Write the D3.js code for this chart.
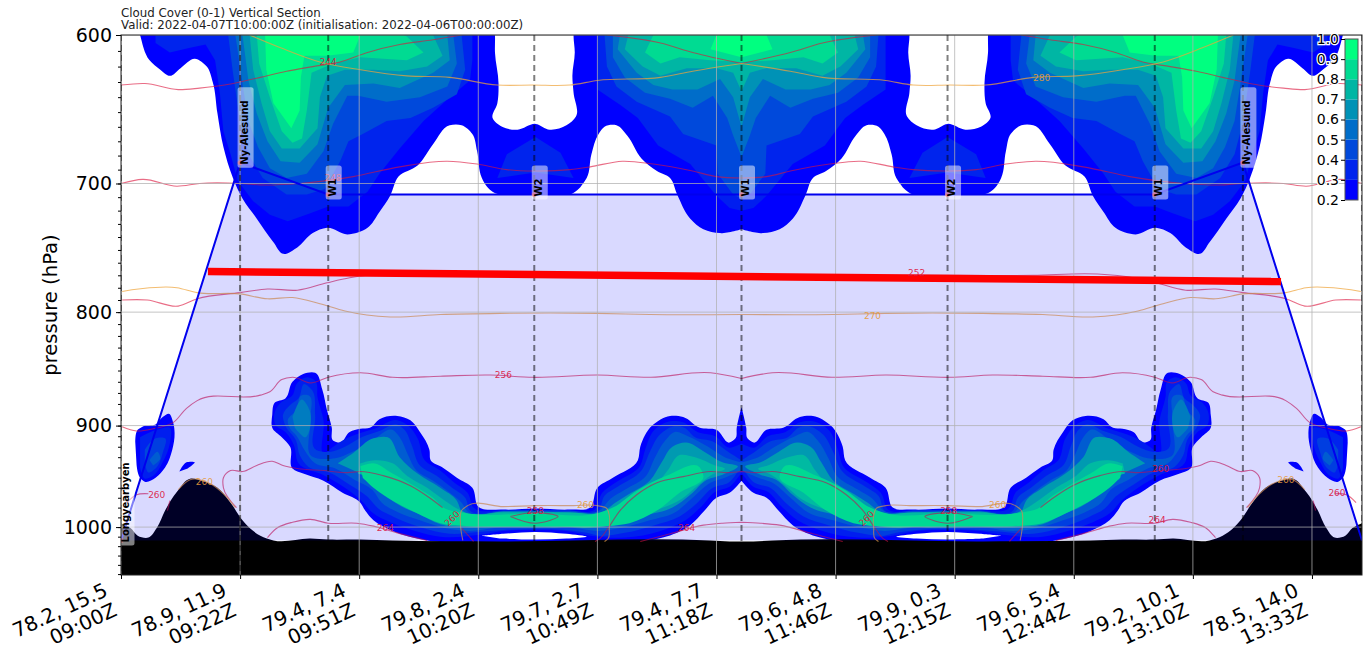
<!DOCTYPE html>
<html>
<head>
<meta charset="utf-8">
<script src="https://cdn.jsdelivr.net/npm/d3@7"></script>
<style>
    body { margin: 0; background: #fff; }
    text { font-family: "DejaVu Sans", sans-serif; }
</style>
</head>
<body>
<svg id="chart" width="1369" height="657"></svg>
<script>
// x is in tick units along the flight (one unit per labelled tick), pressure in hPa
const titleLines = ["Cloud Cover (0-1) Vertical Section", "Valid: 2022-04-07T10:00:00Z (initialisation: 2022-04-06T00:00:00Z)"];
const xTickValues = [0, 1, 2, 3, 4, 5, 6, 7, 8, 9, 10];
const xTickPositions = ["78.2, 15.5", "78.9, 11.9", "79.4, 7.4", "79.8, 2.4", "79.7, 2.7", "79.4, 7.7", "79.6, 4.8", "79.9, 0.3", "79.6, 5.4", "79.2, 10.1", "78.5, 14.0"];
const xTickTimes = ["09:00Z", "09:22Z", "09:51Z", "10:20Z", "10:49Z", "11:18Z", "11:46Z", "12:15Z", "12:44Z", "13:10Z", "13:33Z"];
const pressureTicks = [600, 700, 800, 900, 1000];
const pressureMinorTicks = d3.range(610, 1051, 10);
const xMax = 10.42;
const turnX = 5.21; // the section is flown out and back, so the field mirrors here

const levels = [0.2, 0.3, 0.4, 0.5, 0.6, 0.7, 0.8, 0.9, 1.0];

// flight track
const trackX = [0, 1, 1.74, 3.47, 5.21, 6.94, 8.68, 9.42, 10.42];
const trackP = [1014, 685, 708, 708, 708, 708, 708, 685, 1014];
const waypointNames = ["Longyearbyen", "Ny-Alesund", "W1", "W2", "W1", "W2", "W1", "Ny-Alesund"];
const redLineX = [0.73, 9.74];
const redLineP = [767, 775];

// surface pressure, out to the turn
const surfaceP = [[0,996],[.08,1001],[.14,1009],[.23,1011],[.30,1001],[.37,983],[.47,964],[.58,951],[.68,953],[.81,960],[.92,975],[1.02,993],[1.08,1001],[1.17,1009],[1.28,1014],[1.59,1012],[1.74,1013],[2.01,1013],[2.28,1014],[3.18,1015],[4.95,1014],[5.11,1015],[5.21,1015]];

// cloud cover contours, one outline per level, out to the turn
const upper02 = [[5.21,600],[3.80,600],[3.81,611],[3.79,626],[3.80,637],[3.82,653],[3.74,659],[3.60,662],[3.48,658],[3.33,662],[3.20,660],[3.12,654],[3.16,644],[3.17,631],[3.14,611],[3.14,600],[.16,600],[.24,616],[.33,622],[.41,626],[.50,621],[.62,615],[.72,620],[.77,630],[.81,651],[.86,674],[.94,696],[1.02,711],[1.14,726],[1.28,744],[1.36,753],[1.48,748],[1.61,737],[1.73,733],[1.90,738],[2.07,733],[2.17,721],[2.26,709],[2.33,695],[2.49,687],[2.62,672],[2.76,659],[2.86,659],[2.95,665],[2.99,677],[3.03,696],[3.07,702],[3.12,706],[3.18,708],[3.23,708],[3.30,708],[3.48,708],[3.65,708],[3.72,708],[3.77,708],[3.83,705],[3.88,700],[3.91,696],[3.95,679],[4.01,665],[4.06,660],[4.16,659],[4.25,666],[4.37,682],[4.50,691],[4.61,696],[4.67,708],[4.78,726],[4.89,734],[5.03,737],[5.21,734]];
const upper03 = [[.29,600],[.29,605],[.41,611],[.58,608],[.71,606],[.79,616],[.83,637],[.86,663],[.92,679],[.98,698],[1.11,713],[1.25,723],[1.40,728],[1.59,722],[1.74,717],[1.91,717],[2.07,706],[2.17,693],[2.34,675],[2.54,656],[2.76,640],[2.93,629],[2.95,616],[2.95,600]];
const centre03 = [[5.21,600],[4.00,600],[4.00,635],[4.19,645],[4.34,654],[4.51,673],[4.78,686],[5.00,709],[5.11,718],[5.21,720]];
const tent03 = [[3.16,696],[3.24,679],[3.48,667],[3.69,678],[3.80,696],[3.48,692]];
const upper04 = [[.90,600],[.94,624],[1.00,657],[1.07,679],[1.19,696],[1.39,708],[1.56,708],[1.71,704],[1.84,684],[1.91,670],[2.03,665],[2.23,656],[2.43,654],[2.62,647],[2.82,638],[2.89,622],[2.86,600]];
const centre04 = [[5.21,600],[4.06,600],[4.08,620],[4.16,633],[4.33,643],[4.61,653],[4.72,665],[5.00,673],[5.01,693],[5.14,708],[5.21,711]];
const upper05 = [[.96,600],[1.02,631],[1.07,656],[1.15,674],[1.25,689],[1.39,696],[1.56,693],[1.70,677],[1.78,658],[1.90,639],[1.99,639],[2.23,643],[2.51,640],[2.74,633],[2.82,618],[2.79,600]];
const centre05 = [[5.21,600],[4.13,600],[4.13,614],[4.23,627],[4.40,637],[4.61,641],[4.80,647],[4.97,639],[5.09,654],[5.14,666],[5.21,681]];
const upper06 = [[1.02,600],[1.07,629],[1.14,651],[1.23,670],[1.34,684],[1.50,685],[1.65,672],[1.74,647],[1.88,632],[2.12,631],[2.34,634],[2.62,624],[2.76,616],[2.74,600]];
const centre06 = [[5.21,600],[4.19,600],[4.17,609],[4.33,624],[4.47,632],[4.63,635],[4.84,635],[5.03,628],[5.14,640],[5.21,660]];
const upper07 = [[1.08,600],[1.11,622],[1.18,644],[1.25,663],[1.35,675],[1.50,675],[1.65,661],[1.67,640],[1.73,626],[1.88,622],[2.12,622],[2.34,623],[2.57,620],[2.70,613],[2.62,600]];
const centre07 = [[5.21,600],[4.26,600],[4.23,609],[4.38,620],[4.53,626],[4.75,621],[5.00,621],[5.14,624],[5.21,636]];
const upper08 = [[1.14,600],[1.16,618],[1.25,640],[1.35,663],[1.44,671],[1.52,668],[1.56,649],[1.60,624],[1.78,618],[2.01,614],[2.40,616],[2.54,611],[2.40,601],[2.37,600]];
const centre08 = [[5.21,600],[4.47,600],[4.40,611],[4.53,618],[4.69,614],[4.95,616],[5.21,617]];
const upper09 = [[1.21,600],[1.22,622],[1.28,644],[1.43,661],[1.50,649],[1.51,627],[1.54,613],[1.73,613],[1.95,611],[2.01,600]];
const centre09 = [[5.21,600],[5.00,600],[4.95,609],[5.21,614]];

const lower02 = [[5.21,883],[5.17,902],[5.16,912],[5.11,916],[5.00,904],[4.86,902],[4.72,892],[4.61,891],[4.46,900],[4.36,920],[4.34,933],[4.13,950],[4.00,960],[3.94,980],[3.77,982],[3.48,981],[3.21,982],[3.00,979],[2.95,960],[2.82,950],[2.70,940],[2.60,933],[2.59,923],[2.51,906],[2.43,895],[2.32,891],[2.17,894],[2.09,902],[2.01,903],[1.92,906],[1.84,916],[1.78,914],[1.77,902],[1.73,886],[1.69,867],[1.63,852],[1.53,853],[1.44,860],[1.38,875],[1.29,879],[1.27,890],[1.27,902],[1.35,911],[1.42,920],[1.44,941],[1.53,946],[1.70,953],[1.86,965],[2.01,975],[2.05,983],[2.12,993],[2.28,1004],[2.57,1014],[2.99,1016],[4.27,1016],[4.55,1011],[4.78,998],[4.90,983],[5.00,970],[5.11,965],[5.21,953]];
const lower03 = [[5.21,917],[5.11,921],[4.99,910],[4.84,906],[4.72,897],[4.61,896],[4.48,904],[4.40,923],[4.36,938],[4.15,955],[4.04,965],[3.98,982],[3.77,983],[3.48,982],[3.21,983],[2.96,980],[2.91,965],[2.80,955],[2.68,943],[2.55,933],[2.49,912],[2.41,900],[2.32,895],[2.13,903],[2.01,907],[1.86,914],[1.77,921],[1.71,926],[1.70,895],[1.65,874],[1.63,859],[1.57,856],[1.48,861],[1.44,872],[1.34,879],[1.29,888],[1.30,900],[1.38,906],[1.45,918],[1.49,936],[1.71,948],[1.88,960],[2.02,973],[2.11,985],[2.26,995],[2.47,1004],[2.68,1010],[3.01,1008],[3.21,1004],[3.48,1003],[3.74,1004],[3.94,1009],[4.23,1011],[4.53,1004],[4.74,993],[4.88,978],[4.99,964],[5.11,959],[5.21,945]];
const lower04 = [[5.21,933],[5.10,925],[4.97,915],[4.82,911],[4.73,902],[4.63,901],[4.53,908],[4.44,925],[4.37,943],[4.17,959],[4.06,968],[4.01,983],[3.77,983],[3.48,983],[3.21,983],[2.93,983],[2.89,970],[2.78,960],[2.65,948],[2.51,938],[2.44,918],[2.38,904],[2.32,899],[2.17,905],[2.02,911],[1.88,920],[1.75,925],[1.64,923],[1.63,890],[1.60,867],[1.54,862],[1.49,875],[1.42,881],[1.36,890],[1.38,900],[1.47,914],[1.50,928],[1.57,939],[1.75,945],[1.92,957],[2.07,969],[2.16,981],[2.30,990],[2.51,1000],[2.76,1007],[3.00,1005],[3.21,1003],[3.48,1002],[3.74,1003],[3.91,1006],[4.01,1009],[4.23,1006],[4.48,998],[4.69,989],[4.84,975],[4.97,960],[5.10,955],[5.21,938]];
const lower05 = [[5.21,935],[5.07,930],[4.93,920],[4.76,910],[4.65,906],[4.57,914],[4.48,931],[4.41,948],[4.23,962],[4.11,971],[4.02,983],[3.77,984],[3.48,984],[3.21,984],[2.91,984],[2.86,975],[2.76,965],[2.62,953],[2.48,943],[2.41,928],[2.34,911],[2.28,904],[2.11,914],[1.94,925],[1.80,931],[1.60,929],[1.59,895],[1.57,872],[1.52,872],[1.47,886],[1.40,895],[1.42,903],[1.47,909],[1.54,923],[1.63,936],[1.80,941],[1.96,952],[2.11,962],[2.19,975],[2.33,985],[2.51,993],[2.72,1001],[2.93,1004],[3.14,1001],[3.48,1001],[3.81,1001],[4.01,1004],[4.19,1001],[4.44,993],[4.65,985],[4.80,970],[4.95,955],[5.07,950],[5.21,943]];
const lobe06 = [[1.44,892],[1.52,876],[1.59,888],[1.54,911],[1.46,902]];
const lower06 = [[1.82,936],[1.95,926],[2.12,912],[2.24,911],[2.34,930],[2.49,946],[2.68,960],[2.82,973],[2.86,984],[3.21,984],[3.48,984],[3.77,985],[4.05,984],[4.15,975],[4.27,966],[4.44,953],[4.54,935],[4.63,920],[4.74,916],[4.90,925],[5.05,935],[5.18,939],[5.05,947],[4.92,952],[4.78,967],[4.63,980],[4.40,988],[4.15,997],[3.94,1001],[3.77,1000],[3.48,1000],[3.14,1000],[2.89,1000],[2.68,997],[2.51,987],[2.36,979],[2.24,969],[2.16,956],[2.01,946]];
const lower07 = [[2.01,936],[2.13,933],[2.28,936],[2.40,948],[2.57,960],[2.72,973],[2.82,981],[2.89,985],[3.21,985],[3.48,985],[3.77,985],[4.06,985],[4.17,978],[4.32,970],[4.48,958],[4.59,943],[4.69,928],[4.82,930],[4.99,938],[5.07,941],[4.96,947],[4.84,958],[4.71,971],[4.53,981],[4.27,991],[4.02,999],[3.77,1000],[3.48,1000],[3.14,999],[2.89,999],[2.64,991],[2.49,981],[2.36,973],[2.22,960],[2.09,950],[1.99,946]];
const lower08 = [[2.01,939],[2.11,936],[2.28,946],[2.49,960],[2.62,970],[2.72,981],[2.86,985],[3.48,986],[4.02,985],[4.13,980],[4.33,963],[4.58,948],[4.86,940],[4.89,948],[4.69,965],[4.50,983],[4.27,996],[4.09,999],[3.48,999],[2.93,999],[2.68,996],[2.49,986],[2.28,973],[2.12,960],[2.03,950]];
const gapBelowBand = [[3.03,1009],[3.21,1007],[3.48,1005],[3.74,1007],[3.91,1010],[3.74,1012],[3.48,1013],[3.18,1012]];

const coast02 = [[.12,916],[.14,904],[.18,901],[.29,899],[.35,892],[.40,889],[.44,898],[.45,907],[.43,923],[.37,940],[.29,950],[.20,954],[.16,950],[.13,936]];
const coast03 = [[.16,911],[.30,904],[.41,902],[.41,917],[.35,935],[.27,948],[.20,951],[.16,940]];
const coast04 = [[.20,923],[.29,912],[.37,912],[.35,926],[.29,941],[.23,945],[.20,936]];
const coast05 = [[.24,933],[.31,925],[.33,931],[.27,938]];
const fleck02 = [[.49,944],[.55,935],[.62,935],[.56,941]];

// [level index, outline], upper cloud is drawn with straight segments like the coarse model field
const cloudUpper = [
    [1, upper03], [1, centre03], [1, tent03],
    [2, upper04], [2, centre04],
    [3, upper05], [3, centre05],
    [4, upper06], [4, centre06],
    [5, upper07], [5, centre07],
    [6, upper08], [6, centre08],
    [7, upper09], [7, centre09]
];
const cloudSmooth = [
    [0, upper02], [0, lower02], [0, coast02], [0, fleck02],
    [1, lower03], [1, coast03],
    [2, lower04], [2, coast04],
    [3, lower05], [3, coast05],
    [4, lobe06], [5, lower06], [6, lower07], [7, lower08]
];

// temperature contours
const tempRed = [
    [[0,632],[.20,631],[.48,635],[.66,634],[.87,632],[1.00,630],[1.17,627],[1.39,623],[1.61,620],[1.84,617],[2.07,611],[2.34,606],[2.62,603],[2.86,600]],
    [[4.08,600],[4.53,605],[4.80,611],[5.21,618]],
    [[0,700],[.18,697],[.47,702],[.66,700],[1.00,700],[1.17,701],[1.50,700],[1.95,695],[2.34,688],[2.74,684],[2.99,686],[3.24,690],[3.48,691],[3.77,690],[3.94,688],[4.21,684],[4.47,686],[4.80,691],[5.00,695],[5.21,696]],
    [[.01,790],[.22,790],[.48,795],[.64,789],[1.00,784],[1.23,781],[1.48,782],[1.73,776],[1.92,772],[2.22,769],[2.76,770],[4.02,770],[5.21,771]],
    [[.01,901],[.13,905],[.27,903],[.44,897],[.55,884],[.64,877],[1.17,872],[1.25,869],[1.35,858],[1.44,856],[1.60,861],[1.74,856],[2.01,852],[2.28,856],[2.68,855],[3.10,854],[3.46,856],[4.00,854],[4.45,856],[4.95,852],[5.21,857]],
    [[.05,975],[.13,967],[.23,966]],
    [[.39,983],[.41,973]],
    [[.97,980],[.86,960],[.86,950],[.92,943],[1.02,944],[1.14,938],[1.27,934],[1.36,938],[1.48,941],[1.70,943],[1.90,945],[2.01,944],[2.20,948],[2.43,958],[2.59,970],[2.70,980]],
    [[2.86,1001],[2.96,1015]],
    [[3.98,1015],[4.02,1012],[4.09,1001],[4.19,983],[4.33,967],[4.50,955],[4.72,949],[4.95,944],[5.09,945],[5.21,944]],
    [[1.23,1011],[1.31,1001],[1.44,995],[1.59,992],[1.74,996],[1.98,996],[2.12,999],[2.32,1006],[2.57,1014]],
    [[4.36,1015],[4.61,1007],[4.89,998],[5.05,996],[5.21,995]],
    [[3.27,989],[3.48,985],[3.67,989],[3.48,996],[3.27,989]]
];
const tempOrange = [
    [[1.08,600],[1.34,608],[1.67,617],[2.01,622],[2.40,626],[2.76,627],[3.16,632],[3.46,632],[3.77,632],[4.00,629],[4.53,627],[4.80,623],[5.21,618]],
    [[.01,783],[.47,780],[.64,784],[1.00,785],[1.23,789],[1.44,788],[1.67,793],[1.88,799],[2.26,804],[2.68,802],[3.18,801],[4.00,801],[4.44,802],[5.21,802]],
    [[2.87,1014],[2.85,996],[2.86,983],[2.91,978],[3.21,979],[3.48,978],[3.80,978],[4.00,978],[4.08,981],[4.10,988],[4.10,1001],[4.09,1012],[4.06,1015]],
    [[.48,962],[.58,952],[.75,956],[.86,966],[.96,980]]
];

// temperature labels: text, x, pressure
const redLabels = [["244",1.74,617],["248",1.78,696],["252",6.68,768],["256",3.21,854],["260",.30,967],["260",10.21,965],["260",2.78,991],["260",6.26,991],["258",3.48,983],["258",6.95,983],["264",2.22,1001],["264",4.75,1001],["264",8.70,993],["260",8.73,941]];
const orangeLabels = [["280",7.73,627],["270",6.31,803],["260",.70,954],["260",9.78,952],["260",3.90,977],["260",7.36,977]];
const steepLabels = ["260 2.78", "260 6.26"];

const svg = d3.select("#chart");
const plotLeft = 121, plotRight = 1362, plotTop = 35, plotBottom = 575;

const x = d3.scaleLinear([0, xMax], [plotLeft, plotRight]);
const y = d3.scaleLog([600, 1051], [plotTop, plotBottom]);
const bandColor = i => d3.interpolateRgb("#0000ff", "#00ff80")(i / 7);

const mirror = pts => pts.map(([a, p]) => [2 * turnX - a, p]).reverse();
// an outline that reaches the turn is joined to its mirror image, others get a twin
const rings = pts => pts[pts.length - 1][0] === turnX ? [pts.concat(mirror(pts))] : [pts, mirror(pts)];
const line = d3.line().x(d => x(d[0])).y(d => y(d[1]));
const smoothLine = d3.line().x(d => x(d[0])).y(d => y(d[1])).curve(d3.curveCatmullRom.alpha(1));

svg.append("defs").append("clipPath").attr("id", "plot")
    .append("rect").attr("x", plotLeft).attr("y", plotTop).attr("width", plotRight - plotLeft).attr("height", plotBottom - plotTop);

const plot = svg.append("g").attr("clip-path", "url(#plot)");

// cloud cover bands, lowest level first in each shape group
const drawBands = (shapes, lineFn) => shapes.forEach(([i, pts]) => {
    rings(pts).forEach(r => {
        plot.append("path").attr("d", lineFn(r) + "Z").attr("fill", bandColor(i));
    });
});
drawBands(cloudSmooth.filter(d => d[0] === 0), smoothLine);
drawBands(cloudUpper, line);
drawBands(cloudSmooth.filter(d => d[0] > 0), smoothLine);

// terrain
plot.append("path")
    .attr("d", smoothLine(surfaceP.concat(mirror(surfaceP))) + `L${x(xMax)},${y(1051)}L${x(0)},${y(1051)}Z`)
    .attr("fill", "#000");

// temperature contours
tempRed.forEach(pts => rings(pts).forEach(r => {
    plot.append("path").attr("d", smoothLine(r)).attr("fill", "none")
        .attr("stroke", "#dc143c").attr("stroke-opacity", 0.62).attr("stroke-width", 1.1);
}));
tempOrange.forEach(pts => rings(pts).forEach(r => {
    plot.append("path").attr("d", smoothLine(r)).attr("fill", "none")
        .attr("stroke", "#eea33a").attr("stroke-opacity", 0.72).attr("stroke-width", 1.1);
}));

// flight track shading over everything below it
const track = trackX.map((d, i) => [d, trackP[i]]);
plot.append("path").attr("d", line(track) + "Z").attr("fill", "#0000ff").attr("fill-opacity", 0.15);

rings(gapBelowBand).forEach(r => {
    plot.append("path").attr("d", smoothLine(r) + "Z").attr("fill", "#fff");
});

// grid
plot.selectAll(".gridx").data(xTickValues).join("line").attr("class", "gridx")
    .attr("x1", d => x(d)).attr("x2", d => x(d)).attr("y1", plotTop).attr("y2", plotBottom)
    .attr("stroke", "#b0b0b0").attr("stroke-opacity", 0.75).attr("stroke-width", 1);
plot.selectAll(".gridy").data(pressureTicks).join("line").attr("class", "gridy")
    .attr("x1", plotLeft).attr("x2", plotRight).attr("y1", d => y(d)).attr("y2", d => y(d))
    .attr("stroke", "#b0b0b0").attr("stroke-opacity", 0.75).attr("stroke-width", 1);

// waypoint verticals
plot.selectAll(".waypoint").data(trackX).join("line").attr("class", "waypoint")
    .attr("x1", d => x(d)).attr("x2", d => x(d)).attr("y1", plotTop).attr("y2", plotBottom)
    .attr("stroke", "#000").attr("stroke-opacity", 0.5).attr("stroke-width", 2)
    .attr("stroke-dasharray", "6,4");

plot.append("path").attr("d", line(track)).attr("fill", "none")
    .attr("stroke", "#0000ee").attr("stroke-width", 2);
plot.append("line")
    .attr("x1", x(redLineX[0])).attr("x2", x(redLineX[1]))
    .attr("y1", y(redLineP[0])).attr("y2", y(redLineP[1]))
    .attr("stroke", "#ff0000").attr("stroke-width", 7.5);

// contour labels
function tempLabel(list, color) {
    list.forEach(([t, a, p]) => {
        const steep = steepLabels.includes(t + " " + a);
        plot.append("text")
            .attr("transform", `translate(${x(a)},${y(p)}) rotate(${steep ? -45 : 0})`)
            .attr("text-anchor", "middle").attr("dy", "0.35em")
            .attr("font-size", 9).attr("fill", color).attr("fill-opacity", 0.9)
            .text(t);
    });
}
tempLabel(redLabels, "#dc143c");
tempLabel(orangeLabels, "#e59a3a");

// waypoint markers and labels
waypointNames.forEach((name, i) => {
    const wx = x(trackX[i]), wy = y(trackP[i]);
    plot.append("circle").attr("cx", wx).attr("cy", wy).attr("r", 2.5)
        .attr("fill", "#ff0000").attr("fill-opacity", 0.6);
    const g = plot.append("g").attr("transform", `translate(${wx + 7.5},${wy + 2}) rotate(-90)`);
    const box = g.append("rect");
    const label = g.append("text").attr("font-size", 10).attr("font-weight", "bold").attr("fill", "#000").text(name);
    const b = label.node().getBBox();
    box.attr("x", -3).attr("y", b.y - 1).attr("width", b.width + 16).attr("height", 16)
        .attr("rx", 2.5).attr("fill", "#fff").attr("fill-opacity", 0.5);
});

// frame
svg.append("rect").attr("x", plotLeft).attr("y", plotTop).attr("width", plotRight - plotLeft).attr("height", plotBottom - plotTop)
    .attr("fill", "none").attr("stroke", "#222").attr("stroke-width", 1);

// axes
const yAxis = svg.append("g").attr("transform", `translate(${plotLeft},0)`)
    .call(d3.axisLeft(y).tickValues(pressureTicks).tickFormat(d3.format("d")).tickSize(5).tickPadding(4));
yAxis.select(".domain").remove();
yAxis.selectAll("text").attr("font-size", 19).attr("font-family", '"DejaVu Sans"');
const yMinor = svg.append("g").attr("transform", `translate(${plotLeft},0)`)
    .call(d3.axisLeft(y).tickValues(pressureMinorTicks).tickFormat("").tickSize(3));
yMinor.select(".domain").remove();

const xAxis = svg.append("g").attr("transform", `translate(0,${plotBottom})`)
    .call(d3.axisBottom(x).tickValues(xTickValues).tickFormat("").tickSize(4));
xAxis.select(".domain").remove();

xTickValues.forEach((d, i) => {
    const t = svg.append("text")
        .attr("transform", `translate(${x(d) - 12},595) rotate(-25)`)
        .attr("text-anchor", "end").attr("font-size", 20).attr("fill", "#000");
    t.append("tspan").attr("x", 0).attr("y", 0).text(xTickPositions[i]);
    t.append("tspan").attr("x", 0).attr("y", 22).text(xTickTimes[i]);
});

svg.append("text").attr("transform", "translate(57,305) rotate(-90)")
    .attr("text-anchor", "middle").attr("font-size", 19.6).attr("fill", "#000")
    .text("pressure (hPa)");

titleLines.forEach((t, i) => {
    svg.append("text").attr("x", plotLeft).attr("y", 16.5 + i * 12)
        .attr("font-size", 11.8).attr("fill", "#222").text(t);
});

// colour bar
const cb = d3.scaleLinear([0.2, 1.0], [200, 39]);
const cbar = svg.append("g");
levels.slice(0, -1).forEach((l, i) => {
    cbar.append("rect").attr("x", 1345).attr("width", 13)
        .attr("y", cb(levels[i + 1])).attr("height", cb(l) - cb(levels[i + 1]))
        .attr("fill", bandColor(i));
});
cbar.append("rect").attr("x", 1345).attr("y", 39).attr("width", 13).attr("height", 161)
    .attr("fill", "none").attr("stroke", "#555").attr("stroke-width", 1);
const cbAxis = svg.append("g").attr("transform", "translate(1345,0)")
    .call(d3.axisLeft(cb).tickValues(levels).tickFormat(d3.format(".1f")).tickSize(4).tickPadding(2));
cbAxis.select(".domain").remove();
cbAxis.selectAll("text").attr("font-size", 14).attr("font-family", '"DejaVu Sans"')
    .attr("stroke", "#fff").attr("stroke-width", 2.5).attr("paint-order", "stroke");
</script>
</body>
</html>
